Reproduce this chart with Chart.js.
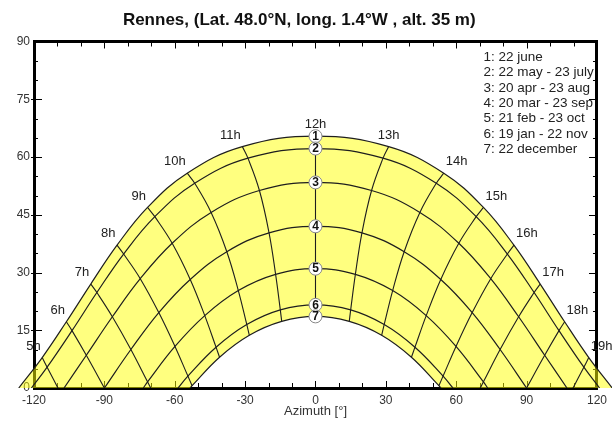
<!DOCTYPE html>
<html>
<head>
<meta charset="utf-8">
<title>Rennes sun path</title>
<script src="https://cdn.jsdelivr.net/npm/chart.js@4.4.1/dist/chart.umd.min.js"></script>
<style>
  body { margin: 0; background: #fff; }
  #wrap { width: 612px; height: 421px; }
</style>
<script>
    // solar hours, one column per hour in the arrays below
    const hourLabels = ['5h', '6h', '7h', '8h', '9h', '10h', '11h', '12h', '13h', '14h', '15h', '16h', '17h', '18h', '19h'];
    const dateLabels = ['1: 22 june', '2: 22 may - 23 july', '3: 20 apr - 23 aug', '4: 20 mar - 23 sep',
        '5: 21 feb - 23 oct', '6: 19 jan - 22 nov', '7: 22 december'];

    // azimuth / elevation (deg) of the sun at each hour, per date curve
    const az1 = [-116.5, -106.2, -95.8, -84.6, -71.6, -54.7, -31.2, 0, 31.2, 54.7, 71.6, 84.6, 95.8, 106.2, 116.5];
    const el1 = [7.9, 17.2, 27.0, 37.1, 46.9, 55.8, 62.7, 65.4, 62.7, 55.8, 46.9, 37.1, 27.0, 17.2, 7.9];
    const az2 = [-114.4, -103.8, -93.2, -81.8, -68.5, -51.5, -28.8, 0, 28.8, 51.5, 68.5, 81.8, 93.2, 103.8, 114.4];
    const el2 = [5.4, 14.9, 24.8, 34.8, 44.5, 53.2, 59.7, 62.2, 59.7, 53.2, 44.5, 34.8, 24.8, 14.9, 5.4];
    const az3 = [-108.7, -97.7, -86.6, -74.7, -61.1, -44.5, -23.9, 0, 23.9, 44.5, 61.1, 74.7, 86.6, 97.7, 108.7];
    const el3 = [-1.3, 8.5, 18.5, 28.4, 37.6, 45.6, 51.3, 53.4, 51.3, 45.6, 37.6, 28.4, 18.5, 8.5, -1.3];
    const az4 = [-101.3, -90.0, -78.7, -66.8, -53.4, -37.8, -19.8, 0, 19.8, 37.8, 53.4, 66.8, 78.7, 90.0, 101.3];
    const el4 = [-10.0, 0, 10.0, 19.6, 28.2, 35.4, 40.3, 42.0, 40.3, 35.4, 28.2, 19.6, 10.0, 0, -10.0];
    const az5 = [null, -82.6, -71.6, -59.9, -47.2, -32.9, -17.0, 0, 17.0, 32.9, 47.2, 59.9, 71.6, 82.6, null];
    const el5 = [null, -8.2, 1.6, 10.8, 18.8, 25.3, 29.5, 31.0, 29.5, 25.3, 18.8, 10.8, 1.6, -8.2, null];
    const az6 = [null, null, -65.5, -54.4, -42.4, -29.3, -15.0, 0, 15.0, 29.3, 42.4, 54.4, 65.5, null, null];
    const el6 = [null, null, -5.6, 3.1, 10.6, 16.5, 20.3, 21.6, 20.3, 16.5, 10.6, 3.1, -5.6, null, null];
    const az7 = [null, null, -63.5, -52.6, -40.9, -28.2, -14.4, 0, 14.4, 28.2, 40.9, 52.6, 63.5, null, null];
    const el7 = [null, null, -7.9, 0.6, 8.0, 13.7, 17.3, 18.6, 17.3, 13.7, 8.0, 0.6, -7.9, null, null];

    // where each date curve meets the horizon
    const sunriseAz = [-126.5, -121.1, -107.2, -90.0, -73.4, -58.6, -53.5];
    const sunsetAz = [126.5, 121.1, 107.2, 90.0, 73.4, 58.6, 53.5];

    // axis ticks
    const azLabels = [-120, -90, -60, -30, 0, 30, 60, 90, 120];
    const elLabels = [0, 15, 30, 45, 60, 75, 90];
    const azTicks = [-110, -100, -90, -80, -70, -60, -50, -40, -30, -20, -10, 0, 10, 20, 30, 40, 50, 60, 70, 80, 90, 100, 110];
    const elTicks = [5, 10, 15, 20, 25, 30, 35, 40, 45, 50, 55, 60, 65, 70, 75, 80, 85];

    const chartTitle = 'Rennes, (Lat. 48.0°N, long. 1.4°W , alt. 35 m)';

    // label placement per hour (style only)
    const hourAlign = ['right', 'right', 'right', 'right', 'right', 'right', 'right', 'center',
        'center', 'left', 'left', 'left', 'left', 'left', 'left'];

    const dayAz = [az1, az2, az3, az4, az5, az6, az7];
    const dayEl = [el1, el2, el3, el4, el5, el6, el7];
    const NOON = 7;
</script>
</head>

<body>
<div id="wrap"><canvas id="sunChart" width="612" height="421"></canvas></div>
<script>
    Chart.defaults.font.family = "'Liberation Sans', Arial, sans-serif";

    function dayCurve(d) {
        var pts = [{x: sunriseAz[d], y: 0}];
        for (var k = 0; k < hourLabels.length; k++) {
            if (dayEl[d][k] !== null && dayEl[d][k] > 0) pts.push({x: dayAz[d][k], y: dayEl[d][k]});
        }
        pts.push({x: sunsetAz[d], y: 0});
        return pts;
    }

    function hourLine(k) {
        var pts = [];
        for (var d = 0; d < dayAz.length; d++) {
            if (dayAz[d][k] !== null) pts.push({x: dayAz[d][k], y: dayEl[d][k]});
        }
        return pts;
    }

    var openClip = {left: false, top: false, right: false, bottom: 0};
    var lineBase = {
        showLine: true, pointRadius: 0, fill: false, tension: 0.4, capBezierPoints: false,
        borderColor: '#1e1e1e', borderWidth: 1.2, clip: openClip, xAxisID: 'x', yAxisID: 'y', order: 2
    };

    // outline of the yellow band between the 22 june and 22 december paths
    // end points are doubled so the outline keeps the same curve as the drawn lines
    var outer = dayCurve(0);
    var inner = dayCurve(6);
    var band = [outer[0]].concat(outer, [outer[outer.length - 1], inner[inner.length - 1]],
        inner.slice().reverse(), [inner[0]]).map(function(p) { return {x: p.x, y: p.y}; });

    var datasets = [{
        data: band, showLine: true, pointRadius: 0, borderWidth: 1, borderColor: 'rgba(0,0,0,0)',
        tension: 0.4, capBezierPoints: false, fill: false, backgroundColor: 'rgba(255,255,0,0.5)',
        clip: openClip, xAxisID: 'x', yAxisID: 'y', order: 3
    }];
    for (var d = 0; d < dayAz.length; d++) {
        datasets.push(Object.assign({}, lineBase, {data: dayCurve(d)}));
    }
    for (var k = 0; k < hourLabels.length; k++) {
        datasets.push(Object.assign({}, lineBase, {data: hourLine(k), borderWidth: 1.1}));
    }
    var circleIndex = datasets.length;
    datasets.push({
        data: dayEl.map(function(e) { return {x: dayAz[0][NOON], y: e[NOON]}; }),
        pointRadius: 6.5, pointBackgroundColor: '#fff', pointBorderColor: '#888', pointBorderWidth: 1,
        clip: false, xAxisID: 'x', yAxisID: 'y', order: 1
    });

    var sunDecor = {
        id: 'sunDecor',
        beforeDatasetsDraw: function(chart) {
            var ctx = chart.ctx, a = chart.chartArea, x = chart.scales.x, y = chart.scales.y;
            ctx.save();
            ctx.strokeStyle = '#000';
            ctx.lineWidth = 1;
            ctx.beginPath();
            azTicks.forEach(function(v) {
                var px = Math.round(x.getPixelForValue(v)) + 0.5;
                var len = v % 30 === 0 ? 7 : 5;
                ctx.moveTo(px, a.top); ctx.lineTo(px, a.top + len);
                ctx.moveTo(px, a.bottom); ctx.lineTo(px, a.bottom - len);
            });
            elTicks.forEach(function(v) {
                var py = Math.round(y.getPixelForValue(v)) + 0.5;
                var major = v % 15 === 0;
                var len = major ? 8 : 4;
                ctx.moveTo(a.left - (major ? 3 : 0), py); ctx.lineTo(a.left + len, py);
                ctx.moveTo(a.right, py); ctx.lineTo(a.right - len, py);
            });
            ctx.stroke();

            // fill the band from the line element of dataset 0, without the chart-area clip
            var band = chart.getDatasetMeta(0).dataset;
            band.updateControlPoints(a, 'x');
            ctx.fillStyle = band.options.backgroundColor;
            ctx.beginPath();
            band.path(ctx);
            ctx.closePath();
            ctx.fill();
            ctx.restore();
        },
        afterDatasetsDraw: function(chart) {
            var ctx = chart.ctx, x = chart.scales.x, y = chart.scales.y;
            ctx.save();
            ctx.textBaseline = 'middle';

            // hour marks above the 22 june path
            ctx.font = "13px 'Liberation Sans', Arial, sans-serif";
            ctx.fillStyle = '#222';
            hourLabels.forEach(function(lab, k) {
                var px = x.getPixelForValue(az1[k]);
                var py = y.getPixelForValue(el1[k]);
                var align = hourAlign[k];
                ctx.textAlign = align;
                var dx = align === 'right' ? -1.5 : (align === 'left' ? 2 : 0);
                ctx.fillText(lab, px + dx, py - 11.5);
            });

            // numbers in the noon circles
            ctx.font = "bold 12px 'Liberation Sans', Arial, sans-serif";
            ctx.fillStyle = '#111';
            ctx.textAlign = 'center';
            chart.getDatasetMeta(circleIndex).data.forEach(function(pt, i) {
                ctx.fillText(String(i + 1), pt.x, pt.y + 0.5);
            });

            // date key, top right
            ctx.font = "13.5px 'Liberation Sans', Arial, sans-serif";
            ctx.fillStyle = '#222';
            ctx.textAlign = 'left';
            dateLabels.forEach(function(t, i) {
                ctx.fillText(t, 483.5, 57.3 + i * 15.3);
            });
            ctx.restore();
        }
    };

    var frameAxis = {
        type: 'linear', ticks: {display: false},
        grid: {display: false, drawTicks: false, lineWidth: 3},
        border: {display: true, color: '#000', width: 3}
    };

    var chart = new Chart(document.getElementById('sunChart'), {
        type: 'scatter',
        data: {datasets: datasets},
        options: {
            responsive: false,
            animation: false,
            events: [],
            layout: {padding: {left: 0, right: 13.5, top: 0, bottom: 0}},
            plugins: {
                legend: {display: false},
                tooltip: {enabled: false},
                title: {
                    display: true, text: chartTitle, color: '#111',
                    font: {size: 17, weight: 'bold'}, padding: {top: 10, bottom: 11.1}
                }
            },
            scales: {
                x: {
                    type: 'linear', position: 'bottom', min: -120, max: 120,
                    afterBuildTicks: function(s) { s.ticks = azLabels.map(function(v) { return {value: v}; }); },
                    afterFit: function(s) { s.height = 33; },
                    grid: {display: false, drawTicks: false, lineWidth: 3},
                    border: {display: true, color: '#000', width: 3},
                    ticks: {color: '#333', font: {size: 12}, padding: 5, maxRotation: 0, autoSkip: false},
                    title: {display: true, text: 'Azimuth [°]', color: '#333', font: {size: 13}, padding: {top: 0, bottom: 2}}
                },
                y: {
                    type: 'linear', position: 'left', min: 0, max: 90,
                    afterBuildTicks: function(s) { s.ticks = elLabels.map(function(v) { return {value: v}; }); },
                    afterFit: function(s) { s.width = 34; },
                    grid: {display: false, drawTicks: false, lineWidth: 3},
                    border: {display: true, color: '#000', width: 3},
                    ticks: {color: '#333', font: {size: 12}, padding: 4}
                },
                xTop: Object.assign({}, frameAxis, {position: 'top', min: -120, max: 120}),
                yRight: Object.assign({}, frameAxis, {position: 'right', min: 0, max: 90})
            }
        },
        plugins: [sunDecor]
    });
</script>
</body>
</html>
